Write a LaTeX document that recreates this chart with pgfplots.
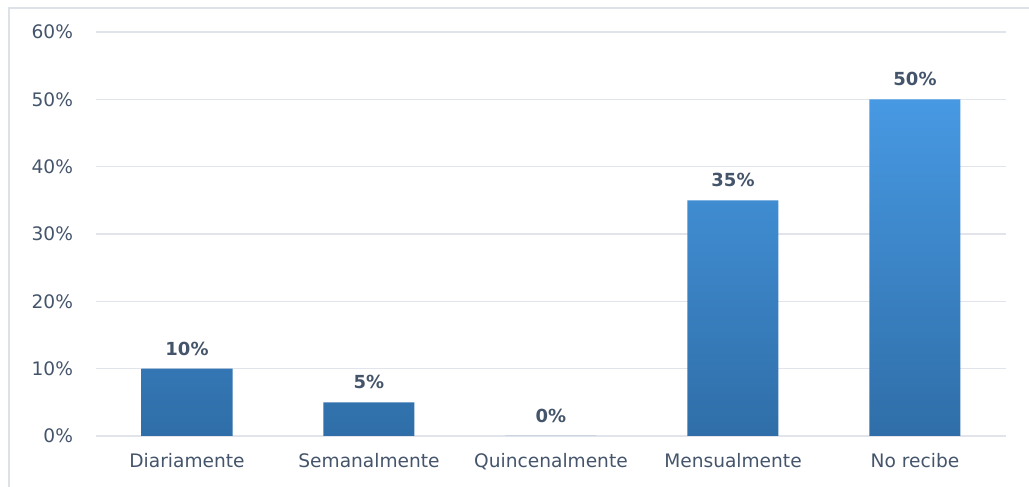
\documentclass[border=0pt]{standalone}
\usepackage{pgfplots}
\pgfplotsset{compat=1.18}
\usepackage{fontspec}
\setmainfont{DejaVu Sans}
\definecolor{txt}{HTML}{44546A}
\definecolor{gridc}{HTML}{E1E4EA}
\definecolor{framec}{HTML}{DDE2E8}
\definecolor{bartop}{HTML}{4799E3}
\definecolor{barbot}{HTML}{2F6EA8}
\begin{document}
\begin{tikzpicture}
\useasboundingbox (0,0) rectangle (514.5pt,243.5pt);
\draw[framec, line width=1.1pt] (4.5pt,-5pt) -- (4.5pt,239.5pt) -- (520pt,239.5pt);
\begin{axis}[
  at={(48pt,25.5pt)}, anchor=south west,
  scale only axis, width=455pt, height=202pt,
  ymin=0, ymax=60, ytick={0,10,...,60},
  yticklabel={\pgfmathprintnumber{\tick}\%},
  xmin=-0.5, xmax=4.5, xtick=data,
  xticklabels={Diariamente,Semanalmente,Quincenalmente,Mensualmente,No recibe},
  axis line style={draw=none},
  major tick length=0pt,
  ymajorgrids, xmajorgrids=false, grid style={draw=gridc, line width=0.6pt},
  every tick label/.style={font=\fontsize{9.3}{11}\selectfont, text=txt},
  /pgf/number format/assume math mode=true,
  yticklabel style={xshift=-8pt},
  xticklabel style={yshift=-5pt},
  ybar, bar width=45.5pt,
  nodes near coords={\pgfmathprintnumber{\pgfplotspointmeta}\%},
  every node near coord/.append style={font=\bfseries\fontsize{9}{11}\selectfont, text=txt, anchor=south, inner sep=0pt, yshift=6.5pt},
  clip=false,
]
\addplot[draw=none, top color=bartop, bottom color=barbot] coordinates {(0,10) (1,5) (2,0) (3,35) (4,50)};
\end{axis}
\end{tikzpicture}
\end{document}
